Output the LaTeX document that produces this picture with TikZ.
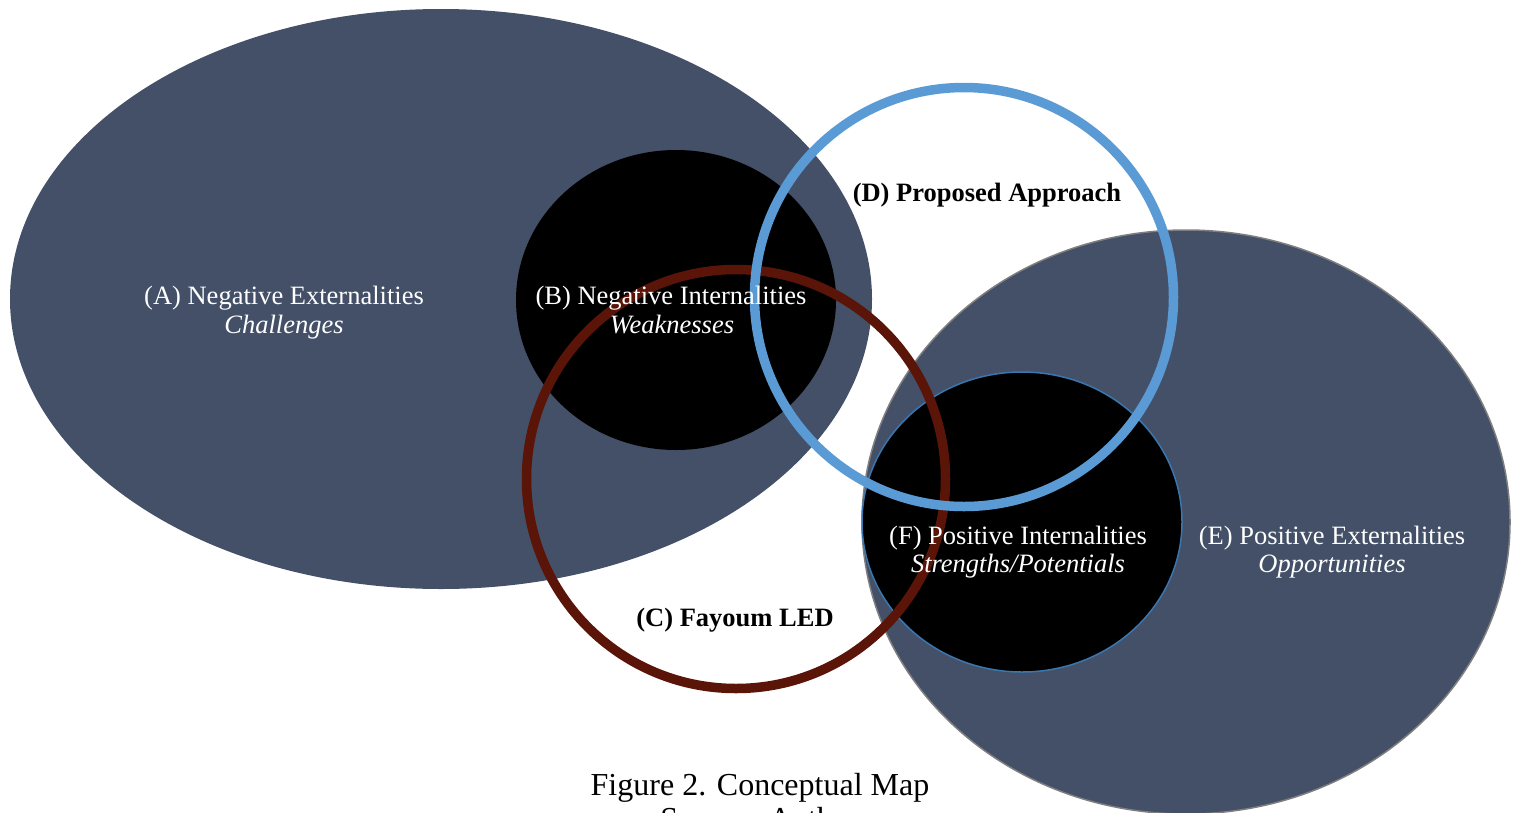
\documentclass[tikz,border=0pt]{standalone}
\usepackage{fontspec}
\setmainfont{Liberation Serif}
\definecolor{slate}{HTML}{435068}
\definecolor{ringblue}{HTML}{5B9BD5}
\definecolor{ringred}{HTML}{5A1508}
\definecolor{fborder}{HTML}{3A77B0}
\definecolor{eborder}{HTML}{7F7F7F}
\begin{document}
\begin{tikzpicture}[x=1pt,y=-1pt,
  lbl/.style={text=white,font=\fontsize{26.5}{30}\selectfont,inner sep=0,anchor=base},
  lblit/.style={lbl,font=\fontsize{26.5}{30}\selectfont\itshape},
  lblbold/.style={text=black,font=\fontsize{26.5}{30}\selectfont\bfseries,inner sep=0,anchor=base},
  captext/.style={text=black,font=\fontsize{32}{36}\selectfont,inner sep=0,anchor=base},
  ring/.style={line width=9.5pt}]
\useasboundingbox (0,0) rectangle (1515,812);
% (A) ellipse
\fill[slate] (441,299) ellipse [x radius=431, y radius=290];
% (B) black disc
\fill[black] (676,300) ellipse [x radius=160, y radius=150];
% (E) ellipse
\fill[slate, draw=eborder, line width=1.5pt] (1186,522) ellipse [x radius=324, y radius=292];
% (F) black disc
\fill[black, draw=fborder, line width=1.5pt] (1022,522) ellipse [x radius=160, y radius=150];
% (C) ring
\draw[ring, ringred] (736,479) circle [radius=209.5];
% (D) ring
\draw[ring, ringblue] (964,297) circle [radius=209.5];
% labels
\node[lbl] (aT) at (284,304) {(A) Negative Externalities};
\node[lblit] (aS) at (284,333) {Challenges};
\node[lbl] (bT) at (671,304) {(B) Negative Internalities};
\node[lblit] (bS) at (672,333) {Weaknesses};
\node[lblbold] (dT) at (987,201) {(D) Proposed Approach};
\node[lblbold] (cT) at (735,626) {(C) Fayoum LED};
\node[lbl] (fT) at (1018,544) {(F) Positive Internalities};
\node[lblit] (fS) at (1018,572) {Strengths/Potentials};
\node[lbl] (eT) at (1332,544) {(E) Positive Externalities};
\node[lblit] (eS) at (1332,572) {Opportunities};
% caption
\node[captext] (cap1) at (760,795) {Figure 2. Conceptual Map};
\node[captext] (cap2) at (760,829) {Source: Author};
\end{tikzpicture}
\end{document}
